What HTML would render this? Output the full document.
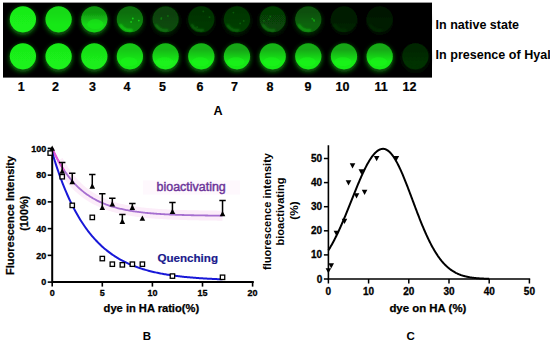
<!DOCTYPE html>
<html><head><meta charset="utf-8"><style>
html,body{margin:0;padding:0;background:#fff;}
body{width:550px;height:342px;overflow:hidden;}
svg{display:block;font-family:"Liberation Sans", sans-serif;}
</style></head><body>
<svg width="550" height="342" viewBox="0 0 550 342">
<defs><linearGradient id="w0_0" x1="0" y1="0" x2="0" y2="1"><stop offset="0.25" stop-color="rgb(25,236,25)"/><stop offset="0.7" stop-color="rgb(26,242,26)"/></linearGradient><linearGradient id="w0_1" x1="0" y1="0" x2="0" y2="1"><stop offset="0.25" stop-color="rgb(23,218,23)"/><stop offset="0.7" stop-color="rgb(25,232,25)"/></linearGradient><linearGradient id="w0_2" x1="0" y1="0" x2="0" y2="1"><stop offset="0.25" stop-color="rgb(16,150,16)"/><stop offset="0.7" stop-color="rgb(23,215,23)"/></linearGradient><linearGradient id="w0_3" x1="0" y1="0" x2="0" y2="1"><stop offset="0.25" stop-color="rgb(12,110,12)"/><stop offset="0.7" stop-color="rgb(14,135,14)"/></linearGradient><linearGradient id="w0_4" x1="0" y1="0" x2="0" y2="1"><stop offset="0.25" stop-color="rgb(7,64,7)"/><stop offset="0.7" stop-color="rgb(7,72,7)"/></linearGradient><linearGradient id="w0_5" x1="0" y1="0" x2="0" y2="1"><stop offset="0.25" stop-color="rgb(5,50,5)"/><stop offset="0.7" stop-color="rgb(6,56,6)"/></linearGradient><linearGradient id="w0_6" x1="0" y1="0" x2="0" y2="1"><stop offset="0.25" stop-color="rgb(5,54,5)"/><stop offset="0.7" stop-color="rgb(6,60,6)"/></linearGradient><linearGradient id="w0_7" x1="0" y1="0" x2="0" y2="1"><stop offset="0.25" stop-color="rgb(6,60,6)"/><stop offset="0.7" stop-color="rgb(7,68,7)"/></linearGradient><linearGradient id="w0_8" x1="0" y1="0" x2="0" y2="1"><stop offset="0.25" stop-color="rgb(8,80,8)"/><stop offset="0.7" stop-color="rgb(11,100,11)"/></linearGradient><linearGradient id="w0_9" x1="0" y1="0" x2="0" y2="1"><stop offset="0.25" stop-color="rgb(3,28,3)"/><stop offset="0.7" stop-color="rgb(3,32,3)"/></linearGradient><linearGradient id="w0_10" x1="0" y1="0" x2="0" y2="1"><stop offset="0.25" stop-color="rgb(2,24,2)"/><stop offset="0.7" stop-color="rgb(3,28,3)"/></linearGradient><linearGradient id="w0_11" x1="0" y1="0" x2="0" y2="1"><stop offset="0.25" stop-color="rgb(0,4,0)"/><stop offset="0.7" stop-color="rgb(0,5,0)"/></linearGradient><linearGradient id="w1_0" x1="0" y1="0" x2="0" y2="1"><stop offset="0.25" stop-color="rgb(25,236,25)"/><stop offset="0.7" stop-color="rgb(26,242,26)"/></linearGradient><linearGradient id="w1_1" x1="0" y1="0" x2="0" y2="1"><stop offset="0.25" stop-color="rgb(25,234,25)"/><stop offset="0.7" stop-color="rgb(26,242,26)"/></linearGradient><linearGradient id="w1_2" x1="0" y1="0" x2="0" y2="1"><stop offset="0.25" stop-color="rgb(24,222,24)"/><stop offset="0.7" stop-color="rgb(26,238,26)"/></linearGradient><linearGradient id="w1_3" x1="0" y1="0" x2="0" y2="1"><stop offset="0.25" stop-color="rgb(22,200,22)"/><stop offset="0.7" stop-color="rgb(25,235,25)"/></linearGradient><linearGradient id="w1_4" x1="0" y1="0" x2="0" y2="1"><stop offset="0.25" stop-color="rgb(20,185,20)"/><stop offset="0.7" stop-color="rgb(26,238,26)"/></linearGradient><linearGradient id="w1_5" x1="0" y1="0" x2="0" y2="1"><stop offset="0.25" stop-color="rgb(19,180,19)"/><stop offset="0.7" stop-color="rgb(25,236,25)"/></linearGradient><linearGradient id="w1_6" x1="0" y1="0" x2="0" y2="1"><stop offset="0.25" stop-color="rgb(18,165,18)"/><stop offset="0.7" stop-color="rgb(25,232,25)"/></linearGradient><linearGradient id="w1_7" x1="0" y1="0" x2="0" y2="1"><stop offset="0.25" stop-color="rgb(19,180,19)"/><stop offset="0.7" stop-color="rgb(25,236,25)"/></linearGradient><linearGradient id="w1_8" x1="0" y1="0" x2="0" y2="1"><stop offset="0.25" stop-color="rgb(18,170,18)"/><stop offset="0.7" stop-color="rgb(25,236,25)"/></linearGradient><linearGradient id="w1_9" x1="0" y1="0" x2="0" y2="1"><stop offset="0.25" stop-color="rgb(18,165,18)"/><stop offset="0.7" stop-color="rgb(25,236,25)"/></linearGradient><linearGradient id="w1_10" x1="0" y1="0" x2="0" y2="1"><stop offset="0.25" stop-color="rgb(18,170,18)"/><stop offset="0.7" stop-color="rgb(25,236,25)"/></linearGradient><linearGradient id="w1_11" x1="0" y1="0" x2="0" y2="1"><stop offset="0.25" stop-color="rgb(4,38,4)"/><stop offset="0.7" stop-color="rgb(5,48,5)"/></linearGradient>
<filter id="blur08" x="-30%" y="-30%" width="160%" height="160%"><feGaussianBlur stdDeviation="0.8"/></filter>
<filter id="blur05" x="-30%" y="-30%" width="160%" height="160%"><feGaussianBlur stdDeviation="0.6"/></filter>
<filter id="blur1" x="-30%" y="-30%" width="160%" height="160%"><feGaussianBlur stdDeviation="0.65"/></filter>
<filter id="blur3" x="-50%" y="-50%" width="200%" height="200%"><feGaussianBlur stdDeviation="2.2"/></filter>
</defs>
<rect x="3" y="2.6" width="429" height="75" fill="#000"/>
<circle cx="22.9" cy="21.1" r="13.9" fill="rgb(11,108,11)" filter="url(#blur3)"/>
<circle cx="22.9" cy="19.3" r="13.1" fill="url(#w0_0)" filter="url(#blur1)"/>
<circle cx="58.6" cy="21.1" r="13.9" fill="rgb(11,104,11)" filter="url(#blur3)"/>
<circle cx="58.6" cy="19.3" r="13.1" fill="url(#w0_1)" filter="url(#blur1)"/>
<circle cx="94.3" cy="21.1" r="13.9" fill="rgb(10,96,10)" filter="url(#blur3)"/>
<circle cx="94.3" cy="19.3" r="13.1" fill="url(#w0_2)" filter="url(#blur1)"/>
<ellipse cx="95.3" cy="24.3" rx="8" ry="5" fill="rgb(25,235,25)" opacity="0.6" filter="url(#blur1)"/>
<circle cx="129.9" cy="21.1" r="13.9" fill="rgb(6,60,6)" filter="url(#blur3)"/>
<circle cx="129.9" cy="19.3" r="13.1" fill="url(#w0_3)" filter="url(#blur1)"/>
<path d="M120.5 25.2 A11.1 11.1 0 0 0 131.5 30.3" fill="none" stroke="rgb(25,232,25)" stroke-width="2.4" stroke-linecap="round" opacity="0.8" filter="url(#blur08)"/>
<circle cx="132.8" cy="18.5" r="0.9" fill="rgb(26,243,26)" opacity="0.7"/>
<circle cx="138.8" cy="20.6" r="0.9" fill="rgb(26,243,26)" opacity="0.7"/>
<circle cx="131.1" cy="21.9" r="0.9" fill="rgb(26,243,26)" opacity="0.7"/>
<circle cx="165.6" cy="21.1" r="13.9" fill="rgb(3,32,3)" filter="url(#blur3)"/>
<circle cx="165.6" cy="19.3" r="13.1" fill="url(#w0_4)" filter="url(#blur1)"/>
<path d="M156.2 25.2 A11.1 11.1 0 0 0 167.2 30.3" fill="none" stroke="rgb(15,138,15)" stroke-width="2.4" stroke-linecap="round" opacity="0.8" filter="url(#blur08)"/>
<circle cx="161.4" cy="18.0" r="0.9" fill="rgb(14,129,14)" opacity="0.7"/>
<circle cx="167.9" cy="16.0" r="0.9" fill="rgb(14,129,14)" opacity="0.7"/>
<circle cx="161.2" cy="19.0" r="0.9" fill="rgb(14,129,14)" opacity="0.7"/>
<circle cx="201.3" cy="21.1" r="13.9" fill="rgb(2,25,2)" filter="url(#blur3)"/>
<circle cx="201.3" cy="19.3" r="13.1" fill="url(#w0_5)" filter="url(#blur1)"/>
<path d="M191.9 25.2 A11.1 11.1 0 0 0 202.8 30.3" fill="none" stroke="rgb(12,114,12)" stroke-width="2.4" stroke-linecap="round" opacity="0.8" filter="url(#blur08)"/>
<circle cx="197.1" cy="27.1" r="0.9" fill="rgb(11,100,11)" opacity="0.7"/>
<circle cx="209.5" cy="17.2" r="0.9" fill="rgb(11,100,11)" opacity="0.7"/>
<circle cx="203.3" cy="11.4" r="0.9" fill="rgb(11,100,11)" opacity="0.7"/>
<circle cx="237.0" cy="21.1" r="13.9" fill="rgb(2,27,2)" filter="url(#blur3)"/>
<circle cx="237.0" cy="19.3" r="13.1" fill="url(#w0_6)" filter="url(#blur1)"/>
<path d="M227.6 25.2 A11.1 11.1 0 0 0 238.5 30.3" fill="none" stroke="rgb(13,120,13)" stroke-width="2.4" stroke-linecap="round" opacity="0.8" filter="url(#blur08)"/>
<circle cx="243.7" cy="20.9" r="0.9" fill="rgb(11,108,11)" opacity="0.7"/>
<circle cx="240.2" cy="23.4" r="0.9" fill="rgb(11,108,11)" opacity="0.7"/>
<circle cx="233.4" cy="12.6" r="0.9" fill="rgb(11,108,11)" opacity="0.7"/>
<circle cx="272.7" cy="21.1" r="13.9" fill="rgb(3,30,3)" filter="url(#blur3)"/>
<circle cx="272.7" cy="19.3" r="13.1" fill="url(#w0_7)" filter="url(#blur1)"/>
<path d="M263.2 25.2 A11.1 11.1 0 0 0 274.2 30.3" fill="none" stroke="rgb(14,132,14)" stroke-width="2.4" stroke-linecap="round" opacity="0.8" filter="url(#blur08)"/>
<circle cx="268.8" cy="19.4" r="0.9" fill="rgb(13,122,13)" opacity="0.7"/>
<circle cx="270.3" cy="16.5" r="0.9" fill="rgb(13,122,13)" opacity="0.7"/>
<circle cx="264.0" cy="20.8" r="0.9" fill="rgb(13,122,13)" opacity="0.7"/>
<circle cx="308.3" cy="21.1" r="13.9" fill="rgb(4,45,4)" filter="url(#blur3)"/>
<circle cx="308.3" cy="19.3" r="13.1" fill="url(#w0_8)" filter="url(#blur1)"/>
<path d="M298.9 25.2 A11.1 11.1 0 0 0 309.9 30.3" fill="none" stroke="rgb(19,180,19)" stroke-width="2.4" stroke-linecap="round" opacity="0.8" filter="url(#blur08)"/>
<circle cx="314.2" cy="20.9" r="0.9" fill="rgb(19,180,19)" opacity="0.7"/>
<circle cx="313.9" cy="20.0" r="0.9" fill="rgb(19,180,19)" opacity="0.7"/>
<circle cx="312.3" cy="18.7" r="0.9" fill="rgb(19,180,19)" opacity="0.7"/>
<circle cx="344.0" cy="21.1" r="13.9" fill="rgb(1,14,1)" filter="url(#blur3)"/>
<circle cx="344.0" cy="19.3" r="13.1" fill="url(#w0_9)" filter="url(#blur1)"/>
<path d="M334.6 25.2 A11.1 11.1 0 0 0 345.6 30.3" fill="none" stroke="rgb(5,54,5)" stroke-width="2.4" stroke-linecap="round" opacity="0.8" filter="url(#blur08)"/>
<circle cx="379.7" cy="21.1" r="13.9" fill="rgb(1,12,1)" filter="url(#blur3)"/>
<circle cx="379.7" cy="19.3" r="13.1" fill="url(#w0_10)" filter="url(#blur1)"/>
<path d="M370.3 25.2 A11.1 11.1 0 0 0 381.2 30.3" fill="none" stroke="rgb(5,46,5)" stroke-width="2.4" stroke-linecap="round" opacity="0.8" filter="url(#blur08)"/>
<circle cx="415.4" cy="21.1" r="13.9" fill="rgb(0,2,0)" filter="url(#blur3)"/>
<circle cx="415.4" cy="19.3" r="13.1" fill="url(#w0_11)" filter="url(#blur1)"/>
<circle cx="22.9" cy="58.1" r="13.9" fill="rgb(11,108,11)" filter="url(#blur3)"/>
<circle cx="22.9" cy="56.3" r="13.1" fill="url(#w1_0)" filter="url(#blur1)"/>
<circle cx="58.6" cy="58.1" r="13.9" fill="rgb(11,108,11)" filter="url(#blur3)"/>
<circle cx="58.6" cy="56.3" r="13.1" fill="url(#w1_1)" filter="url(#blur1)"/>
<circle cx="94.3" cy="58.1" r="13.9" fill="rgb(11,107,11)" filter="url(#blur3)"/>
<circle cx="94.3" cy="56.3" r="13.1" fill="url(#w1_2)" filter="url(#blur1)"/>
<circle cx="129.9" cy="58.1" r="13.9" fill="rgb(11,105,11)" filter="url(#blur3)"/>
<circle cx="129.9" cy="56.3" r="13.1" fill="url(#w1_3)" filter="url(#blur1)"/>
<ellipse cx="128.9" cy="61.8" rx="8.5" ry="4.5" fill="rgb(27,250,27)" opacity="0.45" filter="url(#blur1)"/>
<circle cx="165.6" cy="58.1" r="13.9" fill="rgb(11,107,11)" filter="url(#blur3)"/>
<circle cx="165.6" cy="56.3" r="13.1" fill="url(#w1_4)" filter="url(#blur1)"/>
<ellipse cx="164.6" cy="61.8" rx="8.5" ry="4.5" fill="rgb(27,250,27)" opacity="0.45" filter="url(#blur1)"/>
<circle cx="201.3" cy="58.1" r="13.9" fill="rgb(11,106,11)" filter="url(#blur3)"/>
<circle cx="201.3" cy="56.3" r="13.1" fill="url(#w1_5)" filter="url(#blur1)"/>
<ellipse cx="200.3" cy="61.8" rx="8.5" ry="4.5" fill="rgb(27,250,27)" opacity="0.45" filter="url(#blur1)"/>
<circle cx="237.0" cy="58.1" r="13.9" fill="rgb(11,104,11)" filter="url(#blur3)"/>
<circle cx="237.0" cy="56.3" r="13.1" fill="url(#w1_6)" filter="url(#blur1)"/>
<ellipse cx="236.0" cy="61.8" rx="8.5" ry="4.5" fill="rgb(27,250,27)" opacity="0.45" filter="url(#blur1)"/>
<circle cx="272.7" cy="58.1" r="13.9" fill="rgb(11,106,11)" filter="url(#blur3)"/>
<circle cx="272.7" cy="56.3" r="13.1" fill="url(#w1_7)" filter="url(#blur1)"/>
<ellipse cx="271.7" cy="61.8" rx="8.5" ry="4.5" fill="rgb(27,250,27)" opacity="0.45" filter="url(#blur1)"/>
<circle cx="308.3" cy="58.1" r="13.9" fill="rgb(11,106,11)" filter="url(#blur3)"/>
<circle cx="308.3" cy="56.3" r="13.1" fill="url(#w1_8)" filter="url(#blur1)"/>
<ellipse cx="307.3" cy="61.8" rx="8.5" ry="4.5" fill="rgb(27,250,27)" opacity="0.45" filter="url(#blur1)"/>
<circle cx="344.0" cy="58.1" r="13.9" fill="rgb(11,106,11)" filter="url(#blur3)"/>
<circle cx="344.0" cy="56.3" r="13.1" fill="url(#w1_9)" filter="url(#blur1)"/>
<ellipse cx="343.0" cy="61.8" rx="8.5" ry="4.5" fill="rgb(27,250,27)" opacity="0.45" filter="url(#blur1)"/>
<circle cx="379.7" cy="58.1" r="13.9" fill="rgb(11,106,11)" filter="url(#blur3)"/>
<circle cx="379.7" cy="56.3" r="13.1" fill="url(#w1_10)" filter="url(#blur1)"/>
<ellipse cx="378.7" cy="61.8" rx="8.5" ry="4.5" fill="rgb(27,250,27)" opacity="0.45" filter="url(#blur1)"/>
<circle cx="415.4" cy="58.1" r="13.9" fill="rgb(2,21,2)" filter="url(#blur3)"/>
<circle cx="415.4" cy="56.3" r="13.1" fill="url(#w1_11)" filter="url(#blur1)"/>
<path d="M406.0 62.2 A11.1 11.1 0 0 0 416.9 67.3" fill="none" stroke="rgb(5,51,5)" stroke-width="2.4" stroke-linecap="round" opacity="0.8" filter="url(#blur08)"/>
<text x="21.2" y="90.6" font-size="12.5" font-weight="bold" fill="#000" text-anchor="middle" stroke="#000" stroke-width="0.2">1</text>
<text x="55.5" y="90.6" font-size="12.5" font-weight="bold" fill="#000" text-anchor="middle" stroke="#000" stroke-width="0.2">2</text>
<text x="92.5" y="90.6" font-size="12.5" font-weight="bold" fill="#000" text-anchor="middle" stroke="#000" stroke-width="0.2">3</text>
<text x="127" y="90.6" font-size="12.5" font-weight="bold" fill="#000" text-anchor="middle" stroke="#000" stroke-width="0.2">4</text>
<text x="162.5" y="90.6" font-size="12.5" font-weight="bold" fill="#000" text-anchor="middle" stroke="#000" stroke-width="0.2">5</text>
<text x="200" y="90.6" font-size="12.5" font-weight="bold" fill="#000" text-anchor="middle" stroke="#000" stroke-width="0.2">6</text>
<text x="234.5" y="90.6" font-size="12.5" font-weight="bold" fill="#000" text-anchor="middle" stroke="#000" stroke-width="0.2">7</text>
<text x="270" y="90.6" font-size="12.5" font-weight="bold" fill="#000" text-anchor="middle" stroke="#000" stroke-width="0.2">8</text>
<text x="308" y="90.6" font-size="12.5" font-weight="bold" fill="#000" text-anchor="middle" stroke="#000" stroke-width="0.2">9</text>
<text x="342.5" y="90.6" font-size="12.5" font-weight="bold" fill="#000" text-anchor="middle" stroke="#000" stroke-width="0.2">10</text>
<text x="381" y="90.6" font-size="12.5" font-weight="bold" fill="#000" text-anchor="middle" stroke="#000" stroke-width="0.2">11</text>
<text x="409.5" y="90.6" font-size="12.5" font-weight="bold" fill="#000" text-anchor="middle" stroke="#000" stroke-width="0.2">12</text>
<text x="435.6" y="28.6" font-size="12.55" font-weight="bold" fill="#000" textLength="83.5" lengthAdjust="spacingAndGlyphs">In native state</text>
<text x="435.6" y="59" font-size="12.55" font-weight="bold" fill="#000">In presence of Hyal</text>
<text x="218" y="114.6" font-size="12.6" font-weight="bold" fill="#000" text-anchor="middle">A</text>
<rect x="143" y="180.5" width="97" height="14" fill="#fef8fd"/>
<polyline points="58.21,160.53 59.21,162.33 60.22,164.07 61.22,165.75 62.22,167.38 63.22,168.95 64.22,170.48 65.23,171.95 66.23,173.38 67.23,174.76 68.23,176.10 69.23,177.39 70.24,178.64 71.24,179.85 72.24,181.02 73.24,182.15 74.24,183.25 75.25,184.31 76.25,185.34 77.25,186.33 78.25,187.29 79.25,188.22 80.26,189.12 81.26,189.99 82.26,190.83 83.26,191.64 84.26,192.43 85.27,193.19 86.27,193.93 87.27,194.65 88.27,195.34 89.27,196.00 90.28,196.65 91.28,197.28 92.28,197.88 93.28,198.47 94.28,199.03 95.29,199.58 96.29,200.11 97.29,200.63 98.29,201.12 99.29,201.60 100.30,202.07 101.30,202.52 102.30,202.95 103.30,203.37 104.30,203.78 105.31,204.17 106.31,204.56 107.31,204.92 108.31,205.28 109.31,205.63 110.32,205.96 111.32,206.28 112.32,206.60 113.32,206.90 114.32,207.19 115.33,207.47 116.33,207.75 117.33,208.01 118.33,208.27 119.33,208.52 120.34,208.76 121.34,208.99 122.34,209.22 123.34,209.43 124.34,209.64 125.35,209.85 126.35,210.05 127.35,210.24 128.35,210.42 129.35,210.60 130.36,210.77 131.36,210.94 132.36,211.10 133.36,211.26 134.36,211.41 135.37,211.55 136.37,211.70 137.37,211.83 138.37,211.97 139.37,212.09 140.38,212.22 141.38,212.34 142.38,212.45 143.38,212.57 144.38,212.68 145.39,212.78 146.39,212.88 147.39,212.98 148.39,213.08 149.39,213.17 150.40,213.26 151.40,213.34 152.40,213.43 153.40,213.51 154.40,213.59 155.41,213.66 156.41,213.74 157.41,213.81 158.41,213.88 159.41,213.94 160.42,214.01 161.42,214.07 162.42,214.13 163.42,214.19 164.42,214.24 165.43,214.30 166.43,214.35 167.43,214.40 168.43,214.45 169.43,214.50 170.44,214.54 171.44,214.59 172.44,214.63 173.44,214.67 174.44,214.71 175.45,214.75 176.45,214.79 177.45,214.83 178.45,214.86 179.45,214.90 180.46,214.93 181.46,214.96 182.46,214.99 183.46,215.02 184.46,215.05 185.47,215.08 186.47,215.11 187.47,215.13 188.47,215.16 189.47,215.18 190.48,215.21 191.48,215.23 192.48,215.25 193.48,215.27 194.48,215.30 195.49,215.32 196.49,215.34 197.49,215.35 198.49,215.37 199.49,215.39 200.50,215.41 201.50,215.42 202.50,215.44 203.50,215.46 204.50,215.47 205.51,215.49 206.51,215.50 207.51,215.51 208.51,215.53 209.51,215.54 210.52,215.55 211.52,215.56 212.52,215.57 213.52,215.59 214.52,215.60 215.53,215.61 216.53,215.62 217.53,215.63 218.53,215.64 219.53,215.65 220.54,215.65 221.54,215.66 222.54,215.67" fill="none" stroke="#fcedf9" stroke-width="10" stroke-linejoin="round"/>
<polyline points="52.20,148.40 53.20,150.59 54.20,152.71 55.21,154.76 56.21,156.75 57.21,158.67 58.21,160.53 59.21,162.33 60.22,164.07 61.22,165.75 62.22,167.38 63.22,168.95 64.22,170.48 65.23,171.95 66.23,173.38 67.23,174.76 68.23,176.10 69.23,177.39 70.24,178.64 71.24,179.85 72.24,181.02 73.24,182.15 74.24,183.25 75.25,184.31 76.25,185.34 77.25,186.33 78.25,187.29 79.25,188.22 80.26,189.12 81.26,189.99 82.26,190.83 83.26,191.64 84.26,192.43 85.27,193.19 86.27,193.93 87.27,194.65 88.27,195.34 89.27,196.00 90.28,196.65 91.28,197.28 92.28,197.88 93.28,198.47 94.28,199.03 95.29,199.58 96.29,200.11 97.29,200.63 98.29,201.12 99.29,201.60 100.30,202.07 101.30,202.52 102.30,202.95 103.30,203.37 104.30,203.78 105.31,204.17 106.31,204.56 107.31,204.92 108.31,205.28 109.31,205.63 110.32,205.96 111.32,206.28 112.32,206.60 113.32,206.90 114.32,207.19 115.33,207.47 116.33,207.75 117.33,208.01 118.33,208.27 119.33,208.52 120.34,208.76 121.34,208.99 122.34,209.22 123.34,209.43 124.34,209.64 125.35,209.85 126.35,210.05 127.35,210.24 128.35,210.42 129.35,210.60 130.36,210.77 131.36,210.94 132.36,211.10 133.36,211.26 134.36,211.41 135.37,211.55 136.37,211.70 137.37,211.83 138.37,211.97 139.37,212.09 140.38,212.22 141.38,212.34 142.38,212.45 143.38,212.57 144.38,212.68 145.39,212.78 146.39,212.88 147.39,212.98 148.39,213.08 149.39,213.17 150.40,213.26 151.40,213.34 152.40,213.43 153.40,213.51 154.40,213.59 155.41,213.66 156.41,213.74 157.41,213.81 158.41,213.88 159.41,213.94 160.42,214.01 161.42,214.07 162.42,214.13 163.42,214.19 164.42,214.24 165.43,214.30 166.43,214.35 167.43,214.40 168.43,214.45 169.43,214.50 170.44,214.54 171.44,214.59 172.44,214.63 173.44,214.67 174.44,214.71 175.45,214.75 176.45,214.79 177.45,214.83 178.45,214.86 179.45,214.90 180.46,214.93 181.46,214.96 182.46,214.99 183.46,215.02 184.46,215.05 185.47,215.08 186.47,215.11 187.47,215.13 188.47,215.16 189.47,215.18 190.48,215.21 191.48,215.23 192.48,215.25 193.48,215.27 194.48,215.30 195.49,215.32 196.49,215.34 197.49,215.35 198.49,215.37 199.49,215.39 200.50,215.41 201.50,215.42 202.50,215.44 203.50,215.46 204.50,215.47 205.51,215.49 206.51,215.50 207.51,215.51 208.51,215.53 209.51,215.54 210.52,215.55 211.52,215.56 212.52,215.57 213.52,215.59 214.52,215.60 215.53,215.61 216.53,215.62 217.53,215.63 218.53,215.64 219.53,215.65 220.54,215.65 221.54,215.66 222.54,215.67" fill="none" stroke="#a66fd0" stroke-width="1.8"/>
<polyline points="52.20,148.40 52.70,149.50 53.20,150.59 53.70,151.66 54.20,152.71 54.71,153.75 55.21,154.76 55.71,155.76 56.21,156.75 56.71,157.72 57.21,158.67 57.71,159.61 58.21,160.53 58.71,161.43 59.21,162.33 59.72,163.20 60.22,164.07 60.72,164.91 61.22,165.75 61.72,166.57 62.22,167.38 62.72,168.17 63.22,168.95 63.72,169.72 64.22,170.48" fill="none" stroke="#e45ad8" stroke-width="2"/>
<polyline points="52.20,152.41 53.20,155.77 54.20,159.04 55.21,162.22 56.21,165.32 57.21,168.34 58.21,171.28 59.21,174.14 60.22,176.93 61.22,179.65 62.22,182.29 63.22,184.87 64.22,187.37 65.23,189.82 66.23,192.19 67.23,194.51 68.23,196.77 69.23,198.96 70.24,201.10 71.24,203.19 72.24,205.21 73.24,207.19 74.24,209.11 75.25,210.99 76.25,212.81 77.25,214.59 78.25,216.32 79.25,218.01 80.26,219.65 81.26,221.25 82.26,222.80 83.26,224.32 84.26,225.79 85.27,227.23 86.27,228.63 87.27,229.99 88.27,231.32 89.27,232.62 90.28,233.87 91.28,235.10 92.28,236.29 93.28,237.46 94.28,238.59 95.29,239.69 96.29,240.77 97.29,241.81 98.29,242.83 99.29,243.82 100.30,244.79 101.30,245.73 102.30,246.65 103.30,247.54 104.30,248.41 105.31,249.25 106.31,250.08 107.31,250.88 108.31,251.66 109.31,252.42 110.32,253.16 111.32,253.89 112.32,254.59 113.32,255.27 114.32,255.94 115.33,256.59 116.33,257.22 117.33,257.84 118.33,258.44 119.33,259.02 120.34,259.59 121.34,260.14 122.34,260.68 123.34,261.21 124.34,261.72 125.35,262.22 126.35,262.70 127.35,263.17 128.35,263.63 129.35,264.08 130.36,264.52 131.36,264.94 132.36,265.36 133.36,265.76 134.36,266.15 135.37,266.53 136.37,266.91 137.37,267.27 138.37,267.62 139.37,267.97 140.38,268.30 141.38,268.63 142.38,268.94 143.38,269.25 144.38,269.55 145.39,269.85 146.39,270.13 147.39,270.41 148.39,270.68 149.39,270.94 150.40,271.20 151.40,271.45 152.40,271.69 153.40,271.93 154.40,272.16 155.41,272.39 156.41,272.61 157.41,272.82 158.41,273.03 159.41,273.23 160.42,273.43 161.42,273.62 162.42,273.81 163.42,273.99 164.42,274.16 165.43,274.34 166.43,274.51 167.43,274.67 168.43,274.83 169.43,274.98 170.44,275.13 171.44,275.28 172.44,275.43 173.44,275.56 174.44,275.70 175.45,275.83 176.45,275.96 177.45,276.09 178.45,276.21 179.45,276.33 180.46,276.45 181.46,276.56 182.46,276.67 183.46,276.78 184.46,276.88 185.47,276.98 186.47,277.08 187.47,277.18 188.47,277.27 189.47,277.36 190.48,277.45 191.48,277.54 192.48,277.62 193.48,277.70 194.48,277.78 195.49,277.86 196.49,277.94 197.49,278.01 198.49,278.08 199.49,278.15 200.50,278.22 201.50,278.29 202.50,278.35 203.50,278.42 204.50,278.48 205.51,278.54 206.51,278.60 207.51,278.65 208.51,278.71 209.51,278.76 210.52,278.81 211.52,278.86 212.52,278.91 213.52,278.96 214.52,279.01 215.53,279.06 216.53,279.10 217.53,279.14 218.53,279.19 219.53,279.23 220.54,279.27 221.54,279.31 222.54,279.34" fill="none" stroke="#1818d8" stroke-width="2"/>
<path d="M52.2 147.90000000000003 V282.1 H253.8" fill="none" stroke="#000" stroke-width="2"/>
<path d="M47.7 282.1 H52.2" stroke="#000" stroke-width="1.6"/>
<text x="46.2" y="285.3" font-size="9" font-weight="bold" fill="#000" text-anchor="end" stroke="#000" stroke-width="0.3">0</text>
<path d="M47.7 255.36 H52.2" stroke="#000" stroke-width="1.6"/>
<text x="46.2" y="258.56" font-size="9" font-weight="bold" fill="#000" text-anchor="end" stroke="#000" stroke-width="0.3">20</text>
<path d="M47.7 228.62000000000003 H52.2" stroke="#000" stroke-width="1.6"/>
<text x="46.2" y="231.82000000000002" font-size="9" font-weight="bold" fill="#000" text-anchor="end" stroke="#000" stroke-width="0.3">40</text>
<path d="M47.7 201.88000000000002 H52.2" stroke="#000" stroke-width="1.6"/>
<text x="46.2" y="205.08" font-size="9" font-weight="bold" fill="#000" text-anchor="end" stroke="#000" stroke-width="0.3">60</text>
<path d="M47.7 175.14000000000004 H52.2" stroke="#000" stroke-width="1.6"/>
<text x="46.2" y="178.34000000000003" font-size="9" font-weight="bold" fill="#000" text-anchor="end" stroke="#000" stroke-width="0.3">80</text>
<path d="M47.7 148.40000000000003 H52.2" stroke="#000" stroke-width="1.6"/>
<text x="46.2" y="151.60000000000002" font-size="9" font-weight="bold" fill="#000" text-anchor="end" stroke="#000" stroke-width="0.3">100</text>
<path d="M52.2 282.1 V286.6" stroke="#000" stroke-width="1.6"/>
<text x="52.2" y="295.6" font-size="9" font-weight="bold" fill="#000" text-anchor="middle" stroke="#000" stroke-width="0.3">0</text>
<path d="M102.3 282.1 V286.6" stroke="#000" stroke-width="1.6"/>
<text x="102.3" y="295.6" font-size="9" font-weight="bold" fill="#000" text-anchor="middle" stroke="#000" stroke-width="0.3">5</text>
<path d="M152.39999999999998 282.1 V286.6" stroke="#000" stroke-width="1.6"/>
<text x="152.39999999999998" y="295.6" font-size="9" font-weight="bold" fill="#000" text-anchor="middle" stroke="#000" stroke-width="0.3">10</text>
<path d="M202.5 282.1 V286.6" stroke="#000" stroke-width="1.6"/>
<text x="202.5" y="295.6" font-size="9" font-weight="bold" fill="#000" text-anchor="middle" stroke="#000" stroke-width="0.3">15</text>
<path d="M252.59999999999997 282.1 V286.6" stroke="#000" stroke-width="1.6"/>
<text x="252.59999999999997" y="295.6" font-size="9" font-weight="bold" fill="#000" text-anchor="middle" stroke="#000" stroke-width="0.3">20</text>
<path d="M49.400000000000006 150.80000000000004 L52.2 145.40000000000003 L55.0 150.80000000000004 Z" fill="#000"/>
<path d="M62.22 171.39640000000003 V162.43850000000003 M59.019999999999996 162.43850000000003 H65.42" stroke="#000" stroke-width="1.5" fill="none"/>
<path d="M59.42 173.79640000000003 L62.22 168.39640000000003 L65.02 173.79640000000003 Z" fill="#000"/>
<path d="M72.24000000000001 181.82500000000005 V173.26820000000004 M69.04 173.26820000000004 H75.44000000000001" stroke="#000" stroke-width="1.5" fill="none"/>
<path d="M69.44000000000001 184.22500000000005 L72.24000000000001 178.82500000000005 L75.04 184.22500000000005 Z" fill="#000"/>
<path d="M92.28 186.37080000000003 V174.47150000000002 M89.08 174.47150000000002 H95.48" stroke="#000" stroke-width="1.5" fill="none"/>
<path d="M89.48 188.77080000000004 L92.28 183.37080000000003 L95.08 188.77080000000004 Z" fill="#000"/>
<path d="M102.3 207.62910000000002 V193.858 M99.1 193.858 H105.5" stroke="#000" stroke-width="1.5" fill="none"/>
<path d="M99.5 210.02910000000003 L102.3 204.62910000000002 L105.1 210.02910000000003 Z" fill="#000"/>
<path d="M112.32 204.0192 V198.13640000000004 M109.11999999999999 198.13640000000004 H115.52" stroke="#000" stroke-width="1.5" fill="none"/>
<path d="M109.52 206.41920000000002 L112.32 201.0192 L115.11999999999999 206.41920000000002 Z" fill="#000"/>
<path d="M122.34 221.53390000000002 V214.5815 M119.14 214.5815 H125.54" stroke="#000" stroke-width="1.5" fill="none"/>
<path d="M119.54 223.93390000000002 L122.34 218.53390000000002 L125.14 223.93390000000002 Z" fill="#000"/>
<path d="M132.36 207.49540000000002 V203.48440000000002 M129.16000000000003 203.48440000000002 H135.56" stroke="#000" stroke-width="1.5" fill="none"/>
<path d="M129.56 209.89540000000002 L132.36 204.49540000000002 L135.16000000000003 209.89540000000002 Z" fill="#000"/>
<path d="M139.57999999999998 220.85880000000003 L142.38 215.45880000000002 L145.18 220.85880000000003 Z" fill="#000"/>
<path d="M172.44 211.64010000000002 V202.54850000000002 M169.24 202.54850000000002 H175.64" stroke="#000" stroke-width="1.5" fill="none"/>
<path d="M169.64 214.04010000000002 L172.44 208.64010000000002 L175.24 214.04010000000002 Z" fill="#000"/>
<path d="M222.54000000000002 213.913 V200.543 M219.34000000000003 200.543 H225.74" stroke="#000" stroke-width="1.5" fill="none"/>
<path d="M219.74 216.31300000000002 L222.54000000000002 210.913 L225.34000000000003 216.31300000000002 Z" fill="#000"/>
<rect x="47.996" y="150.87950000000004" width="4.4" height="4.4" fill="#fff" stroke="#000" stroke-width="1.3"/>
<rect x="60.019999999999996" y="174.54440000000005" width="4.4" height="4.4" fill="#fff" stroke="#000" stroke-width="1.3"/>
<rect x="70.04" y="203.15620000000004" width="4.4" height="4.4" fill="#fff" stroke="#000" stroke-width="1.3"/>
<rect x="90.08" y="215.18920000000003" width="4.4" height="4.4" fill="#fff" stroke="#000" stroke-width="1.3"/>
<rect x="100.1" y="256.3688" width="4.4" height="4.4" fill="#fff" stroke="#000" stroke-width="1.3"/>
<rect x="110.11999999999999" y="261.98420000000004" width="4.4" height="4.4" fill="#fff" stroke="#000" stroke-width="1.3"/>
<rect x="120.14" y="262.65270000000004" width="4.4" height="4.4" fill="#fff" stroke="#000" stroke-width="1.3"/>
<rect x="130.16000000000003" y="261.98420000000004" width="4.4" height="4.4" fill="#fff" stroke="#000" stroke-width="1.3"/>
<rect x="140.18" y="261.98420000000004" width="4.4" height="4.4" fill="#fff" stroke="#000" stroke-width="1.3"/>
<rect x="170.24" y="273.8835" width="4.4" height="4.4" fill="#fff" stroke="#000" stroke-width="1.3"/>
<rect x="220.34000000000003" y="275.08680000000004" width="4.4" height="4.4" fill="#fff" stroke="#000" stroke-width="1.3"/>
<text x="156.6" y="191.3" font-size="12.5" font-weight="normal" fill="#6c3399" textLength="69.2" lengthAdjust="spacingAndGlyphs" stroke="#6c3399" stroke-width="0.45">bioactivating</text>
<text x="157.5" y="262.4" font-size="11.8" font-weight="bold" fill="#1a1a8c" textLength="60.5" lengthAdjust="spacingAndGlyphs" stroke="#1a1a8c" stroke-width="0.2">Quenching</text>
<text x="103.6" y="312" font-size="10" font-weight="bold" fill="#000" textLength="95.5" lengthAdjust="spacingAndGlyphs" stroke="#000" stroke-width="0.25">dye in HA ratio(%)</text>
<text x="147" y="339.6" font-size="11.5" font-weight="bold" fill="#000" text-anchor="middle">B</text>
<g transform="translate(14.3 215.4) rotate(-90)">
<text x="0" y="0" font-size="11" font-weight="bold" fill="#000" text-anchor="middle" textLength="119" lengthAdjust="spacingAndGlyphs" stroke="#000" stroke-width="0.25">Fluorescence Intensity</text>
<text x="2.1" y="13.3" font-size="11" font-weight="bold" fill="#000" text-anchor="middle" textLength="35" lengthAdjust="spacingAndGlyphs" stroke="#000" stroke-width="0.25">(100%)</text>
</g>
<polyline points="328.40,250.32 328.80,249.67 329.20,249.02 329.61,248.36 330.01,247.69 330.41,247.01 330.81,246.32 331.21,245.62 331.62,244.91 332.02,244.19 332.42,243.46 332.82,242.73 333.22,241.98 333.63,241.23 334.03,240.46 334.43,239.69 334.83,238.91 335.23,238.11 335.64,237.31 336.04,236.51 336.44,235.69 336.84,234.86 337.24,234.03 337.65,233.19 338.05,232.34 338.45,231.48 338.85,230.61 339.25,229.74 339.66,228.85 340.06,227.97 340.46,227.07 340.86,226.16 341.26,225.25 341.67,224.34 342.07,223.41 342.47,222.48 342.87,221.55 343.27,220.60 343.68,219.66 344.08,218.70 344.48,217.74 344.88,216.78 345.28,215.81 345.69,214.84 346.09,213.86 346.49,212.88 346.89,211.89 347.29,210.90 347.70,209.91 348.10,208.91 348.50,207.91 348.90,206.91 349.30,205.91 349.71,204.91 350.11,203.90 350.51,202.89 350.91,201.88 351.31,200.87 351.72,199.86 352.12,198.85 352.52,197.85 352.92,196.84 353.32,195.83 353.73,194.83 354.13,193.82 354.53,192.82 354.93,191.82 355.33,190.82 355.74,189.83 356.14,188.84 356.54,187.86 356.94,186.87 357.34,185.90 357.75,184.92 358.15,183.96 358.55,183.00 358.95,182.04 359.35,181.10 359.76,180.15 360.16,179.22 360.56,178.29 360.96,177.38 361.36,176.47 361.77,175.57 362.17,174.67 362.57,173.79 362.97,172.92 363.37,172.06 363.78,171.21 364.18,170.36 364.58,169.54 364.98,168.72 365.38,167.91 365.79,167.12 366.19,166.34 366.59,165.57 366.99,164.82 367.39,164.08 367.80,163.35 368.20,162.64 368.60,161.94 369.00,161.26 369.40,160.60 369.81,159.95 370.21,159.31 370.61,158.69 371.01,158.09 371.41,157.51 371.82,156.94 372.22,156.39 372.62,155.86 373.02,155.34 373.42,154.85 373.83,154.37 374.23,153.91 374.63,153.47 375.03,153.05 375.43,152.65 375.84,152.26 376.24,151.90 376.64,151.56 377.04,151.23 377.44,150.93 377.85,150.65 378.25,150.38 378.65,150.14 379.05,149.92 379.45,149.72 379.86,149.54 380.26,149.38 380.66,149.24 381.06,149.13 381.46,149.03 381.87,148.96 382.27,148.90 382.67,148.87 383.07,148.86 383.47,148.87 383.88,148.91 384.28,148.97 384.68,149.05 385.08,149.16 385.48,149.30 385.89,149.45 386.29,149.63 386.69,149.84 387.09,150.07 387.49,150.32 387.90,150.59 388.30,150.89 388.70,151.21 389.10,151.56 389.50,151.92 389.91,152.31 390.31,152.73 390.71,153.16 391.11,153.62 391.51,154.09 391.92,154.59 392.32,155.11 392.72,155.65 393.12,156.21 393.52,156.79 393.93,157.40 394.33,158.02 394.73,158.66 395.13,159.32 395.53,159.99 395.94,160.69 396.34,161.40 396.74,162.13 397.14,162.88 397.54,163.65 397.95,164.43 398.35,165.22 398.75,166.04 399.15,166.86 399.55,167.71 399.96,168.56 400.36,169.43 400.76,170.32 401.16,171.21 401.56,172.12 401.97,173.04 402.37,173.97 402.77,174.92 403.17,175.87 403.57,176.84 403.98,177.81 404.38,178.80 404.78,179.79 405.18,180.79 405.58,181.80 405.99,182.82 406.39,183.84 406.79,184.87 407.19,185.91 407.59,186.95 408.00,188.00 408.40,189.05 408.80,190.11 409.20,191.17 409.60,192.23 410.01,193.30 410.41,194.37 410.81,195.44 411.21,196.51 411.61,197.59 412.02,198.67 412.42,199.74 412.82,200.82 413.22,201.90 413.62,202.97 414.03,204.05 414.43,205.12 414.83,206.19 415.23,207.26 415.63,208.33 416.04,209.39 416.44,210.45 416.84,211.51 417.24,212.56 417.64,213.61 418.05,214.66 418.45,215.70 418.85,216.73 419.25,217.76 419.65,218.78 420.06,219.80 420.46,220.81 420.86,221.81 421.26,222.81 421.66,223.80 422.07,224.78 422.47,225.76 422.87,226.72 423.27,227.68 423.67,228.63 424.08,229.58 424.48,230.51 424.88,231.44 425.28,232.35 425.68,233.26 426.09,234.16 426.49,235.05 426.89,235.92 427.29,236.79 427.69,237.65 428.10,238.50 428.50,239.34 428.90,240.17 429.30,240.99 429.70,241.80 430.11,242.59 430.51,243.38 430.91,244.16 431.31,244.93 431.71,245.68 432.12,246.43 432.52,247.16 432.92,247.88 433.32,248.60 433.72,249.30 434.13,249.99 434.53,250.67 434.93,251.34 435.33,252.00 435.73,252.65 436.14,253.28 436.54,253.91 436.94,254.53 437.34,255.13 437.74,255.73 438.15,256.31 438.55,256.88 438.95,257.45 439.35,258.00 439.75,258.54 440.16,259.07 440.56,259.59 440.96,260.10 441.36,260.61 441.76,261.10 442.17,261.58 442.57,262.05 442.97,262.51 443.37,262.97 443.77,263.41 444.18,263.84 444.58,264.27 444.98,264.68 445.38,265.09 445.78,265.48 446.19,265.87 446.59,266.25 446.99,266.62 447.39,266.98 447.79,267.34 448.20,267.68 448.60,268.02 449.00,268.35 449.40,268.67 449.80,268.98 450.21,269.29 450.61,269.59 451.01,269.88 451.41,270.16 451.81,270.44 452.22,270.71 452.62,270.97 453.02,271.22 453.42,271.47 453.82,271.71 454.23,271.95 454.63,272.18 455.03,272.40 455.43,272.62 455.83,272.83 456.24,273.03 456.64,273.23 457.04,273.43 457.44,273.61 457.84,273.80 458.25,273.98 458.65,274.15 459.05,274.31 459.45,274.48 459.85,274.63 460.26,274.79 460.66,274.94 461.06,275.08 461.46,275.22 461.86,275.35 462.27,275.48 462.67,275.61 463.07,275.73 463.47,275.85 463.87,275.97 464.28,276.08 464.68,276.19 465.08,276.29 465.48,276.39 465.88,276.49 466.29,276.59 466.69,276.68 467.09,276.77 467.49,276.85 467.89,276.93 468.30,277.01 468.70,277.09 469.10,277.17 469.50,277.24 469.90,277.31 470.31,277.37 470.71,277.44 471.11,277.50 471.51,277.56 471.91,277.62 472.32,277.67 472.72,277.73 473.12,277.78 473.52,277.83 473.92,277.88 474.33,277.92 474.73,277.97 475.13,278.01 475.53,278.05 475.93,278.09 476.34,278.13 476.74,278.17 477.14,278.20 477.54,278.24 477.94,278.27 478.35,278.30 478.75,278.33 479.15,278.36 479.55,278.39 479.95,278.42 480.36,278.44 480.76,278.47 481.16,278.49 481.56,278.51 481.96,278.53 482.37,278.55 482.77,278.57 483.17,278.59 483.57,278.61 483.97,278.63 484.38,278.65 484.78,278.66 485.18,278.68 485.58,278.69 485.98,278.71 486.39,278.72 486.79,278.73 487.19,278.75 487.59,278.76 487.99,278.77 488.40,278.78 488.80,278.79 489.20,278.80" fill="none" stroke="#000" stroke-width="2"/>
<path d="M328.4 145.3 V279.0 H530.2" fill="none" stroke="#000" stroke-width="1.6"/>
<path d="M323.9 279.0 H328.4" stroke="#000" stroke-width="1.5"/>
<text x="322.2" y="282.5" font-size="10" font-weight="bold" fill="#000" text-anchor="end" stroke="#000" stroke-width="0.3">0</text>
<path d="M323.9 254.9 H328.4" stroke="#000" stroke-width="1.5"/>
<text x="322.2" y="258.4" font-size="10" font-weight="bold" fill="#000" text-anchor="end" stroke="#000" stroke-width="0.3">10</text>
<path d="M323.9 230.8 H328.4" stroke="#000" stroke-width="1.5"/>
<text x="322.2" y="234.3" font-size="10" font-weight="bold" fill="#000" text-anchor="end" stroke="#000" stroke-width="0.3">20</text>
<path d="M323.9 206.7 H328.4" stroke="#000" stroke-width="1.5"/>
<text x="322.2" y="210.2" font-size="10" font-weight="bold" fill="#000" text-anchor="end" stroke="#000" stroke-width="0.3">30</text>
<path d="M323.9 182.6 H328.4" stroke="#000" stroke-width="1.5"/>
<text x="322.2" y="186.1" font-size="10" font-weight="bold" fill="#000" text-anchor="end" stroke="#000" stroke-width="0.3">40</text>
<path d="M323.9 158.5 H328.4" stroke="#000" stroke-width="1.5"/>
<text x="322.2" y="162.0" font-size="10" font-weight="bold" fill="#000" text-anchor="end" stroke="#000" stroke-width="0.3">50</text>
<path d="M328.4 279.0 V283.5" stroke="#000" stroke-width="1.5"/>
<text x="328.4" y="294.9" font-size="10" font-weight="bold" fill="#000" text-anchor="middle" stroke="#000" stroke-width="0.3">0</text>
<path d="M368.59999999999997 279.0 V283.5" stroke="#000" stroke-width="1.5"/>
<text x="368.59999999999997" y="294.9" font-size="10" font-weight="bold" fill="#000" text-anchor="middle" stroke="#000" stroke-width="0.3">10</text>
<path d="M408.79999999999995 279.0 V283.5" stroke="#000" stroke-width="1.5"/>
<text x="408.79999999999995" y="294.9" font-size="10" font-weight="bold" fill="#000" text-anchor="middle" stroke="#000" stroke-width="0.3">20</text>
<path d="M449.0 279.0 V283.5" stroke="#000" stroke-width="1.5"/>
<text x="449.0" y="294.9" font-size="10" font-weight="bold" fill="#000" text-anchor="middle" stroke="#000" stroke-width="0.3">30</text>
<path d="M489.19999999999993 279.0 V283.5" stroke="#000" stroke-width="1.5"/>
<text x="489.19999999999993" y="294.9" font-size="10" font-weight="bold" fill="#000" text-anchor="middle" stroke="#000" stroke-width="0.3">40</text>
<path d="M529.4 279.0 V283.5" stroke="#000" stroke-width="1.5"/>
<text x="529.4" y="294.9" font-size="10" font-weight="bold" fill="#000" text-anchor="middle" stroke="#000" stroke-width="0.3">50</text>
<path d="M325.59999999999997 268.165 L331.2 268.165 L328.4 273.365 Z" fill="#000"/>
<path d="M328.414 263.345 L334.014 263.345 L331.214 268.545 Z" fill="#000"/>
<path d="M333.64 230.80999999999997 L339.24 230.80999999999997 L336.44 236.01 Z" fill="#000"/>
<path d="M341.67999999999995 218.76 L347.28 218.76 L344.47999999999996 223.96 Z" fill="#000"/>
<path d="M345.7 180.2 L351.3 180.2 L348.5 185.4 Z" fill="#000"/>
<path d="M349.71999999999997 163.32999999999998 L355.32 163.32999999999998 L352.52 168.53 Z" fill="#000"/>
<path d="M353.73999999999995 193.21399999999997 L359.34 193.21399999999997 L356.53999999999996 198.414 Z" fill="#000"/>
<path d="M358.56399999999996 169.355 L364.164 169.355 L361.364 174.555 Z" fill="#000"/>
<path d="M361.78 189.84 L367.38 189.84 L364.58 195.04000000000002 Z" fill="#000"/>
<path d="M373.84 156.1 L379.44 156.1 L376.64 161.3 Z" fill="#000"/>
<path d="M393.53799999999995 156.1 L399.138 156.1 L396.33799999999997 161.3 Z" fill="#000"/>
<text x="389.4" y="311.6" font-size="10" font-weight="bold" fill="#000" textLength="77" lengthAdjust="spacingAndGlyphs" stroke="#000" stroke-width="0.25">dye on HA (%)</text>
<text x="410.6" y="339.6" font-size="11.5" font-weight="bold" fill="#000" text-anchor="middle">C</text>
<g transform="translate(270.5 211.5) rotate(-90)">
<text x="0" y="0" font-size="11.5" font-weight="bold" fill="#000" text-anchor="middle" textLength="117" lengthAdjust="spacingAndGlyphs">fluorescence intensity</text>
<text x="0" y="13.7" font-size="11.5" font-weight="bold" fill="#000" text-anchor="middle" textLength="68" lengthAdjust="spacingAndGlyphs">bioactivating</text>
<text x="1" y="27.3" font-size="11.5" font-weight="bold" fill="#000" text-anchor="middle" textLength="18.5" lengthAdjust="spacingAndGlyphs">(%)</text>
</g>
</svg>
</body></html>
